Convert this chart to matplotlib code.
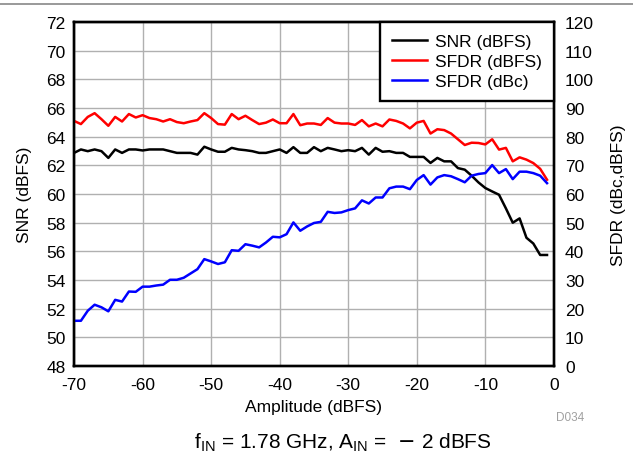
import matplotlib
matplotlib.use("Agg")
import matplotlib.pyplot as plt
from matplotlib.lines import Line2D

plt.rcParams['font.family'] = ['Liberation Sans', 'DejaVu Sans']
plt.rcParams['axes.unicode_minus'] = False

# amplitude sweep (dBFS)
amplitude = list(range(-70, 0))

snr_dbfs = [62.87, 63.11, 62.99, 63.11, 62.99, 62.52, 63.11, 62.87, 63.11, 63.11,
            63.04, 63.11, 63.11, 63.11, 62.99, 62.87, 62.87, 62.87, 62.75, 63.30,
            63.11, 62.95, 62.95, 63.22, 63.11, 63.06, 62.99, 62.87, 62.87, 62.99,
            63.11, 62.87, 63.27, 62.87, 62.87, 63.27, 62.99, 63.22, 63.11, 62.99,
            63.06, 62.99, 63.22, 62.75, 63.22, 62.95, 62.99, 62.87, 62.87, 62.59,
            62.59, 62.59, 62.17, 62.52, 62.28, 62.28, 61.81, 61.70, 61.28, 60.81,
            60.42, 60.18, 59.95, 59.00, 58.00, 58.30, 56.95, 56.55, 55.75, 55.75]

sfdr_dbfs = [85.5, 84.4, 86.9, 88.2, 86.1, 83.8, 86.9, 85.3, 87.9, 86.7,
             87.5, 86.5, 86.1, 85.3, 86.1, 85.1, 84.7, 85.3, 85.8, 88.2,
             86.5, 84.4, 84.2, 87.9, 86.1, 87.3, 85.8, 84.4, 84.9, 86.0,
             84.7, 84.7, 87.9, 84.0, 84.6, 84.6, 84.1, 86.5, 84.9, 84.6,
             84.6, 84.1, 85.8, 83.6, 84.6, 83.6, 86.0, 85.5, 84.6, 82.9,
             84.9, 85.5, 81.1, 82.6, 82.3, 81.1, 79.1, 77.1, 77.9, 77.8,
             77.3, 79.1, 75.5, 76.1, 71.4, 72.8, 72.0, 70.8, 68.8, 65.0]

sfdr_dbc = [15.8, 15.8, 19.3, 21.4, 20.5, 19.1, 23.1, 22.5, 26.0, 25.9,
            27.7, 27.7, 28.1, 28.4, 30.1, 30.1, 30.8, 32.3, 33.8, 37.3,
            36.5, 35.6, 36.2, 40.4, 40.2, 42.5, 42.0, 41.4, 43.1, 45.1,
            44.9, 46.0, 50.1, 47.2, 48.7, 49.9, 50.3, 53.8, 53.4, 53.6,
            54.4, 55.0, 57.8, 56.7, 58.8, 58.8, 62.0, 62.6, 62.6, 61.7,
            64.9, 66.6, 63.3, 65.8, 66.6, 66.2, 65.2, 64.1, 66.4, 67.0,
            67.3, 70.1, 67.3, 68.7, 65.2, 67.8, 67.8, 67.3, 66.4, 63.8]

fig = plt.figure(figsize=(6.33, 4.60), dpi=100)
ax = fig.add_axes([0.117, 0.202, 0.758, 0.748])
ax2 = ax.twinx()

# left axis: SNR
l1, = ax.plot(amplitude, snr_dbfs, color='black', lw=1.8, label='SNR (dBFS)')
ax.set_xlim(-70, 0)
ax.set_ylim(48, 72)
ax.set_xticks(range(-70, 1, 10))
ax.set_yticks(range(48, 73, 2))
ax.grid(True, color='#b0b0b0', lw=1.0)
ax.set_axisbelow(True)
ax.set_xlabel('Amplitude (dBFS)', fontsize=12.5, labelpad=5)
ax.set_ylabel('SNR (dBFS)', fontsize=12.5, labelpad=10)

# right axis: SFDR
l2, = ax2.plot(amplitude, sfdr_dbfs, color='#ff0000', lw=1.8, label='SFDR (dBFS)')
l3, = ax2.plot(amplitude, sfdr_dbc, color='#0000ff', lw=1.8, label='SFDR (dBc)')
ax2.set_ylim(0, 120)
ax2.set_yticks(range(0, 121, 10))
ax2.set_ylabel('SFDR (dBc,dBFS)', fontsize=12.5, labelpad=12)

ax.tick_params(axis='x', length=0, labelsize=12.5, pad=8)
ax.tick_params(axis='y', length=0, labelsize=12.5, pad=6)
ax2.tick_params(axis='y', length=0, labelsize=12.5, pad=8)
for a in (ax, ax2):
    for s in a.spines.values():
        s.set_linewidth(1.7)

leg = ax2.legend(handles=[l1, l2, l3], loc='upper right', fontsize=12.5,
                 fancybox=False, framealpha=1, edgecolor='black',
                 borderaxespad=0, handlelength=2.0, handletextpad=0.45,
                 labelspacing=0.26, borderpad=0.7)
leg.get_frame().set_linewidth(1.7)

fig.text(0.900, 0.091, 'D034', color='#a0a0a0', fontsize=8.5, ha='center', va='center')
fig.text(0.542, 0.026, r'f$_\mathregular{IN}$ = 1.78 GHz, A$_\mathregular{IN}$ =  $-$ 2 dBFS',
         fontsize=15, ha='center', va='baseline')

fig.add_artist(Line2D([0, 1], [0.989, 0.989], color='#888888', lw=1.2,
                      transform=fig.transFigure))

fig.savefig('out.png', dpi=100)
